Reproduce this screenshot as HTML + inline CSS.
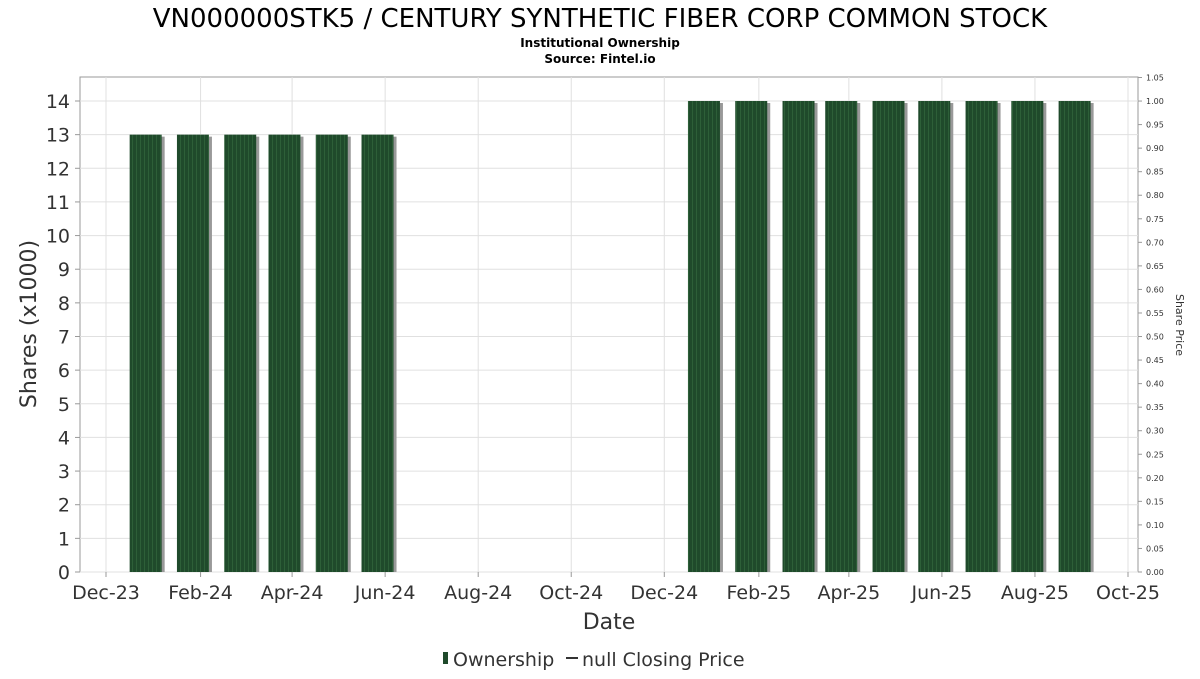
<!DOCTYPE html>
<html><head><meta charset="utf-8"><style>
body{margin:0;background:#fff;font-family:"DejaVu Sans","Liberation Sans",sans-serif}
</style></head><body>
<svg width="1200" height="675" xmlns="http://www.w3.org/2000/svg" id="chart">
<defs>
<pattern id="stripes" width="4" height="10" patternUnits="userSpaceOnUse">
<rect width="4" height="10" fill="#1f4a2b"/><rect width="1" height="10" fill="#2d5f38"/>
</pattern>
</defs>
<text x="600" y="27" text-anchor="middle" font-size="26" fill="#000">VN000000STK5 / CENTURY SYNTHETIC FIBER CORP COMMON STOCK</text>
<text x="600" y="47" text-anchor="middle" font-size="12" font-weight="bold">Institutional Ownership</text>
<text x="600" y="63" text-anchor="middle" font-size="12" font-weight="bold">Source: Fintel.io</text>
<rect x="80" y="77" width="1058" height="495" fill="#fff" stroke="#999"/>
<g id="grid"></g><g id="bars"></g><g id="axes"></g>
<text transform="translate(36,324) rotate(-90)" text-anchor="middle" font-size="22" fill="#333">Shares (x1000)</text>
<text transform="translate(1176,325) rotate(90)" text-anchor="middle" font-size="11" fill="#333">Share Price</text>
<text x="609" y="629" text-anchor="middle" font-size="22" fill="#333">Date</text>
<g>
<rect x="443" y="652" width="5" height="12" fill="#1f4a2b"/>
<text x="453" y="666" font-size="19" fill="#333">Ownership</text>
<line x1="566" y1="658" x2="578" y2="658" stroke="#333" stroke-width="2"/>
<text x="582" y="666" font-size="19" fill="#333">null Closing Price</text>
</g>
</svg>
<script>
const barDates=["2023-12-27","2024-01-27","2024-02-27","2024-03-27","2024-04-27","2024-05-27","2024-12-27","2025-01-27","2025-02-27","2025-03-27","2025-04-27","2025-05-27","2025-06-27","2025-07-27","2025-08-27"];
const barValues=[13,13,13,13,13,13,14,14,14,14,14,14,14,14,14];
const xTickLabels=["Dec-23","Feb-24","Apr-24","Jun-24","Aug-24","Oct-24","Dec-24","Feb-25","Apr-25","Jun-25","Aug-25","Oct-25"];
const xTickDates=["2023-12-01","2024-02-01","2024-04-01","2024-06-01","2024-08-01","2024-10-01","2024-12-01","2025-02-01","2025-04-01","2025-06-01","2025-08-01","2025-10-01"];
const yTicks=[0,1,2,3,4,5,6,7,8,9,10,11,12,13,14];
const priceTicks=["0.00","0.05","0.10","0.15","0.20","0.25","0.30","0.35","0.40","0.45","0.50","0.55","0.60","0.65","0.70","0.75","0.80","0.85","0.90","0.95","1.00","1.05"];
const NS="http://www.w3.org/2000/svg";
const t0=Date.parse("2023-12-01"),t1=Date.parse("2025-10-01");
function xs(d){return 106+(Date.parse(d)-t0)/(t1-t0)*(1128-106);}
function ys(v){return 572-v*(572-101)/14;}
function yp(v){return 572-v/1.05*(572-77.5);}
function mk(tag,attrs,parent){const e=document.createElementNS(NS,tag);for(const k in attrs)e.setAttribute(k,attrs[k]);parent.appendChild(e);return e;}
const grid=document.getElementById('grid'),bars=document.getElementById('bars'),axes=document.getElementById('axes');
yTicks.forEach(v=>{
 const y=ys(v);
 const g=mk('line',{x1:80,x2:1138,y1:y,y2:y,stroke:'#e0e0e0'},grid);
 
 
 mk('line',{x1:75,x2:80,y1:y,y2:y,stroke:'#999'},axes);
 const t=mk('text',{x:70,y:y+7,'text-anchor':'end','font-size':19,fill:'#333'},axes);
 t.textContent=v;
 
 
});
priceTicks.forEach(p=>{
 const y=yp(parseFloat(p));
 mk('line',{x1:1138,x2:1142,y1:y,y2:y,stroke:'#999'},axes);
 const t=mk('text',{x:1146,y:y+3,'font-size':8,fill:'#333'},axes);
 t.textContent=p;
 
 
});
xTickDates.forEach((d,i)=>{
 const x=xs(d);
 const g=mk('line',{x1:x,x2:x,y1:77,y2:572,stroke:'#e0e0e0'},grid);
 
 
 mk('line',{x1:x,x2:x,y1:572,y2:577,stroke:'#999'},axes);
 const t=mk('text',{x:x,y:599,'text-anchor':'middle','font-size':19,fill:'#333'},axes);
 t.textContent=xTickLabels[i];
 
 
});
barDates.forEach((d,i)=>{
 const cx=xs(d),y=ys(barValues[i]),w=32;
 const s=mk('rect',{x:cx-w/2+3,y:y+2,width:w,height:572-y-2,fill:'#999'},bars);
 
 
 const b=mk('rect',{x:cx-w/2,y:y,width:w,height:572-y,fill:'url(#stripes)'},bars);
 
 
});
</script>
</body></html>
